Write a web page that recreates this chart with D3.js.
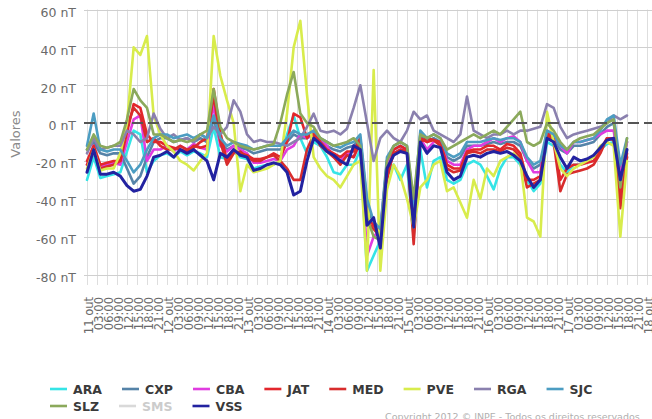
<!DOCTYPE html>
<html>
<head>
<meta charset="utf-8">
<script src="https://cdn.jsdelivr.net/npm/d3@7"></script>
<style>
  html, body { margin: 0; padding: 0; background: #fff; }
  svg { display: block; font-family: "DejaVu Sans", sans-serif; }
</style>
</head>
<body>
<svg id="chart" width="652" height="419"></svg>
<script>
// Hours elapsed since 11 Oct 2012 00:00 for each sample
const hours = [0,2,4,6,8,10,12,14,16,18,20,22,24,26,28,30,32,34,36,38,40,42,44,46,48,50,52,54,56,58,
  60,62,64,66,68,70,72,74,76,78,80,82,84,86,88,90,92,94,96,98,100,102,104,106,108,110,112,114,116,118,
  120,122,124,126,128,130,132,134,136,138,140,142,144,146,148,150,152,154,156,158,160,162];

// Magnetic field variation per station (nT)
const ARA = [-30,-18,-29,-28,-27,-26,-15,-4,-6,-26, -20,-17,-16,-18,-15,-17,-15,-16,-18,-2,
  -18,-19,-15,-18,-19,-24,-23,-22,-22,-20, -6,4,-8,-16,-10,-12,-18,-26,-27,-22,
  -22,-14,-78,-70,-62,-28,-22,-30,-22,-60, -14,-34,-20,-18,-30,-32,-30,-22,-20,-22,
  -28,-35,-24,-18,-18,-22,-30,-36,-32,-10, -12,-22,-26,-22,-22,-20,-18,-14,-11,-10, -34,-18];
const CXP = [-14,-10,-16,-17,-16,-16,-24,-32,-28,-18, -10,-8,-8,-10,-9,-8,-10,-8,-10,2,
  -10,-14,-12,-13,-14,-16,-15,-14,-14,-14, -10,-6,-8,-8,-6,-10,-12,-14,-15,-13,
  -12,-8,-42,-54,-58,-20,-14,-12,-14,-46, -6,-10,-8,-10,-18,-20,-18,-12,-12,-12,
  -11,-10,-11,-10,-10,-12,-20,-24,-22,-6, -8,-14,-16,-12,-12,-11,-10,-6,-2,0, -24,-10];
const CBA = [-22,-12,-23,-22,-21,-22,-10,2,4,-20, -14,-14,-12,-15,-12,-14,-11,-13,-14,10,
  -12,-15,-12,-14,-16,-21,-21,-20,-19,-20, -14,-12,-6,-8,-6,-8,-12,-18,-20,-16,
  -18,-10,-70,-60,-56,-22,-16,-14,-14,-50, -8,-14,-10,-10,-20,-22,-22,-14,-12,-12,
  -10,-8,-10,-8,-7,-10,-20,-26,-26,-4, -6,-12,-16,-10,-10,-9,-8,-6,-4,-4, -28,-10];
const JAT = [-20,-12,-22,-21,-20,-20,-5,10,8,-6, -10,-10,-12,-13,-14,-15,-12,-13,-12,18,
  -5,-20,-14,-16,-17,-19,-19,-18,-16,-18, -10,5,3,-8,-4,-10,-14,-16,-18,-15,
  -15,-8,-50,-54,-58,-30,-14,-12,-14,-50, -8,-10,-9,-10,-22,-24,-24,-15,-14,-14,
  -12,-12,-14,-11,-12,-16,-30,-30,-28,-5, -8,-30,-24,-22,-22,-21,-20,-14,-8,-8, -40,-16];
const MED = [-22,-14,-24,-23,-22,-20,-2,8,4,-10, -8,-12,-14,-14,-12,-14,-13,-10,-8,15,
  -10,-22,-16,-15,-18,-20,-20,-18,-17,-20, -24,-30,-30,-14,-6,-12,-15,-18,-22,-17,
  -18,-10,-52,-56,-60,-28,-16,-14,-15,-64, -10,-8,-9,-12,-24,-26,-25,-16,-15,-16,
  -14,-14,-15,-13,-14,-18,-34,-32,-30,-6, -10,-36,-27,-26,-25,-24,-22,-16,-8,-9, -45,-18];
const PVE = [-24,-14,-25,-24,-24,-16,0,40,36,46, 4,-6,-12,-15,-20,-22,-25,-20,-16,46,
  25,12,0,-36,-22,-26,-25,-24,-22,-20, 5,40,54,15,-18,-24,-28,-30,-34,-28,
  -22,-20,-78,28,-78,-35,-22,-28,-40,-55, -34,-30,-22,-20,-36,-34,-42,-50,-30,-40,
  -24,-28,-20,-18,-16,-20,-50,-52,-60,6, -10,-24,-28,-24,-22,-20,-18,-12,-10,-12, -60,-20];
const RGA = [-16,-8,-14,-13,-12,-12,-4,-6,-10,-8, 5,-3,-8,-6,-9,-8,-10,-6,-8,-2,
  -6,-2,12,6,-6,-10,-9,-10,-10,-11, -12,-10,-8,-2,5,-4,-5,-4,-6,-3,
  8,20,0,-20,-8,-4,-8,-10,-4,6, 2,4,-4,-6,-8,-10,-6,14,-4,-6,
  -8,-6,-6,-4,-6,-4,-4,-3,-2,10, 8,-2,-8,-6,-5,-4,-3,-2,0,4, 2,4];
const SJC = [-12,5,-14,-15,-14,-14,-20,-26,-22,-14, -8,-6,-6,-8,-7,-6,-8,-6,-8,4,
  -8,-12,-10,-11,-12,-14,-13,-12,-12,-12, -8,-4,-6,-6,-4,-8,-10,-12,-13,-11,
  -10,-6,-40,-52,-56,-18,-12,-10,-12,-44, -4,-8,-6,-8,-16,-18,-16,-10,-10,-10,
  -9,-8,-9,-8,-8,-10,-18,-22,-20,-4, -6,-12,-14,-10,-10,-9,-8,-4,2,4, -22,-8];
const SLZ = [-14,-6,-12,-13,-12,-10,2,18,12,8, -6,-6,-8,-10,-9,-10,-9,-6,-4,18,
  -2,-8,-10,-12,-13,-14,-13,-12,-11,0, 15,27,5,0,-2,-8,-10,-12,-11,-10,
  -8,-12,-50,-60,-62,-20,-12,-10,-12,-40, -6,-8,-6,-8,-14,-12,-10,-8,-6,-8,
  -6,-4,-6,-2,2,6,-10,-12,-10,0, -4,-10,-14,-10,-8,-7,-6,-3,0,2, -34,-8];
const SMS = [];
const VSS = [-26,-14,-27,-27,-26,-28,-33,-36,-35,-28, -18,-17,-15,-18,-14,-16,-14,-17,-20,-30,
  -16,-18,-14,-17,-18,-25,-24,-22,-21,-22, -26,-38,-36,-20,-8,-11,-15,-17,-20,-22,
  -12,-14,-54,-50,-66,-24,-17,-15,-16,-55, -10,-16,-12,-13,-26,-30,-28,-18,-17,-18,
  -16,-15,-16,-15,-17,-20,-28,-34,-30,-8, -10,-18,-24,-18,-20,-19,-17,-13,-9,-8, -30,-14];

const stationNames  = ["ARA","CXP","CBA","JAT","MED","PVE","RGA","SJC","SLZ","SMS","VSS"];
const stationValues = [ARA, CXP, CBA, JAT, MED, PVE, RGA, SJC, SLZ, SMS, VSS];
const stationColors = ["#35e4e6","#5583a8","#e03ce0","#e3262c","#d82c2c","#d8ec4c",
                       "#8a80ae","#4c9dc2","#8ba95b","#d9d9d9","#2222a0"];
const yTicks = [-80, -60, -40, -20, 0, 20, 40, 60];
const monthName = "out";
const yTitle = "Valores";
const copyright = "Copyright 2012 © INPE - Todos os direitos reservados";

const start = new Date(2012, 9, 11, 0, 0);
const end = new Date(2012, 9, 18, 0, 0);
const toDate = h => new Date(start.getTime() + h * 3600 * 1000);

const svg = d3.select("#chart");
const plotLeft = 87, plotRight = 647, plotTop = 9.5, plotBottom = 274.5;

const x = d3.scaleTime().domain([start, end]).range([plotLeft, plotRight]);
const y = d3.scaleLinear().domain([-80, 60]).range([plotBottom, plotTop]);

// vertical grid every 3 hours, running down past the last row as tick marks
const xTicks = x.ticks(d3.timeHour.every(3));
svg.append("g").selectAll("line").data(xTicks).join("line")
  .attr("x1", d => Math.round(x(d)) + 0.5).attr("x2", d => Math.round(x(d)) + 0.5)
  .attr("y1", plotTop).attr("y2", 285)
  .attr("stroke", "#dedede").attr("stroke-width", 1);

// horizontal grid
svg.append("g").selectAll("line").data(yTicks.filter(v => v !== 0)).join("line")
  .attr("x1", 84).attr("x2", 652)
  .attr("y1", d => Math.round(y(d)) + 0.5).attr("y2", d => Math.round(y(d)) + 0.5)
  .attr("stroke", "#cfcfcf").attr("stroke-width", 1);

// y labels
svg.append("g").selectAll("text").data(yTicks).join("text")
  .attr("x", 76).attr("y", d => y(d) + 3).attr("dy", "0.35em")
  .attr("text-anchor", "end").attr("font-size", 12.5).attr("fill", "#6a6a6a")
  .text(d => `${d} nT`);

// y title
svg.append("text")
  .attr("transform", "translate(20,134) rotate(-90)")
  .attr("text-anchor", "middle").attr("font-size", 13).attr("fill", "#8a8a8a")
  .text(yTitle);

// x labels, rotated
const fmtTime = d3.timeFormat("%H:%M");
svg.append("g").selectAll("text").data(xTicks).join("text")
  .attr("transform", d => `translate(${x(d) + 1.5},297) rotate(-90)`)
  .attr("text-anchor", "end").attr("dy", "0.35em")
  .attr("font-size", 11.5).attr("fill", "#6a6a6a")
  .text(d => (d.getHours() === 0 ? `${d.getDate()} ${monthName}` : fmtTime(d)));

// station lines
const line = d3.line()
  .x((d, i) => x(toDate(hours[i])))
  .y(d => y(d))
  .defined(d => d != null);

const plot = svg.append("g");
stationNames.forEach((name, k) => {
  const vals = stationValues[k];
  if (!vals.length) return;
  plot.append("path")
    .datum(vals)
    .attr("d", line)
    .attr("fill", "none")
    .attr("stroke", stationColors[k])
    .attr("stroke-width", name === "VSS" ? 3 : 2.6)
    .attr("stroke-linejoin", "round")
    .attr("stroke-linecap", "round");
});

// zero reference line
svg.append("line")
  .attr("x1", plotLeft - 3).attr("x2", 652)
  .attr("y1", y(0)).attr("y2", y(0))
  .attr("stroke", "#555").attr("stroke-width", 2)
  .attr("stroke-dasharray", "11,5");

// legend
const legend = svg.append("g").attr("font-size", 12.5).attr("font-weight", "bold");
let lx = 50, ly = 389;
stationNames.forEach((name, k) => {
  const hidden = name === "SMS";
  const item = legend.append("g").attr("transform", `translate(${lx},${ly})`);
  item.append("line").attr("x1", 0).attr("x2", 17).attr("y1", 0).attr("y2", 0)
    .attr("stroke", stationColors[k]).attr("stroke-width", 2.6);
  const t = item.append("text").attr("x", 23).attr("dy", "0.36em")
    .attr("fill", hidden ? "#cccccc" : "#3a3a3a").text(name);
  const w = 23 + t.node().getComputedTextLength() + 20;
  lx += w;
  const nextW = k + 1 < stationNames.length ? 60 : 0;
  if (lx + nextW > 640) { lx = 50; ly += 17; }
});

// footer
svg.append("text")
  .attr("x", 385).attr("y", 420)
  .attr("font-size", 9.5).attr("fill", "#b0b0b0")
  .text(copyright);
</script>
</body>
</html>
